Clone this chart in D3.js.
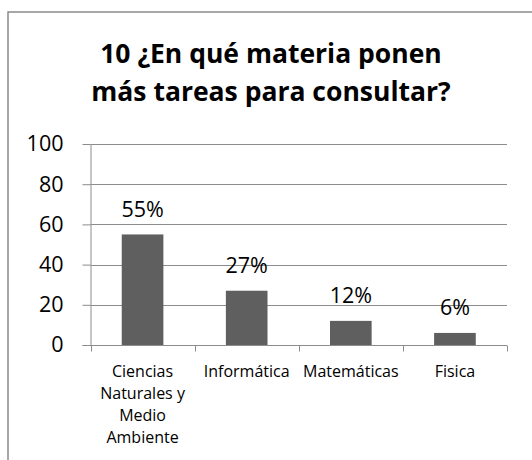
<!DOCTYPE html>
<html>
<head>
<meta charset="utf-8">
<script src="https://cdn.jsdelivr.net/npm/d3@7"></script>
<style>
  body { margin: 0; background: #fff; }
  svg { display: block; font-family: "Open Sans", sans-serif; }
</style>
</head>
<body>
<div id="chart"></div>
<script>
// chart data
const titleLines = ["10 ¿En qué materia ponen", "más tareas para consultar?"];
const categories = [
  ["Ciencias", "Naturales y", "Medio", "Ambiente"],
  ["Informática"],
  ["Matemáticas"],
  ["Fisica"]
];
const values = [55, 27, 12, 6];
const valueLabels = ["55%", "27%", "12%", "6%"];
const yTicks = [0, 20, 40, 60, 80, 100];

const fontFamily = "'Open Sans', sans-serif";
const width = 532, height = 460;
const plot = { left: 90.5, right: 507, top: 144, bottom: 345 };

const svg = d3.select("#chart").append("svg")
  .attr("width", width)
  .attr("height", height);

// outer frame (cut off at right and bottom like the picture)
svg.append("rect")
  .attr("x", 8).attr("y", 12)
  .attr("width", 540).attr("height", 470)
  .attr("fill", "#fff")
  .attr("stroke", "#8a8a8a")
  .attr("stroke-width", 1.5);

// title
svg.append("text")
  .attr("text-anchor", "middle")
  .attr("font-weight", "bold")
  .attr("font-size", 26.5)
  .attr("fill", "#000")
  .selectAll("tspan")
  .data(titleLines)
  .join("tspan")
    .attr("x", 271)
    .attr("y", (d, i) => 63 + i * 38)
    .text(d => d);

const x = d3.scaleBand()
  .domain(d3.range(categories.length))
  .range([plot.left, plot.right])
  .paddingInner(0.6)
  .paddingOuter(0.3);

const xTicks = d3.scaleBand()
  .domain(d3.range(categories.length))
  .range([plot.left, plot.right]);

const y = d3.scaleLinear()
  .domain([0, 100])
  .range([plot.bottom, plot.top]);

// gridlines
svg.append("g")
  .selectAll("line")
  .data(yTicks.slice(1))
  .join("line")
    .attr("x1", plot.left)
    .attr("x2", plot.right)
    .attr("y1", d => Math.round(y(d)) + 0.5)
    .attr("y2", d => Math.round(y(d)) + 0.5)
    .attr("stroke", "#8c8c8c")
    .attr("stroke-width", 1);

// y axis
const yAxis = svg.append("g")
  .attr("transform", `translate(${plot.left},0)`)
  .call(d3.axisLeft(y).tickValues(yTicks).tickSize(8).tickSizeOuter(0).tickPadding(19));
yAxis.selectAll("path, line").attr("stroke", "#8c8c8c");
yAxis.selectAll("text")
  .attr("font-size", 21.5)
  .attr("font-family", fontFamily)
  .attr("fill", "#000");

// bars
svg.append("g")
  .selectAll("rect")
  .data(values)
  .join("rect")
    .attr("x", (d, i) => x(i))
    .attr("y", d => y(d))
    .attr("width", x.bandwidth())
    .attr("height", d => y(0) - y(d))
    .attr("fill", "#5f5f5f");

// value labels
svg.append("g")
  .selectAll("text")
  .data(values)
  .join("text")
    .attr("x", (d, i) => x(i) + x.bandwidth() / 2)
    .attr("y", d => y(d) - 17.5)
    .attr("text-anchor", "middle")
    .attr("font-size", 21.5)
    .attr("fill", "#000")
    .text((d, i) => valueLabels[i]);

// x axis
const xAxisG = svg.append("g")
  .attr("transform", `translate(0,${Math.round(plot.bottom) + 0.5})`);
xAxisG.append("line")
  .attr("x1", plot.left - 8).attr("x2", plot.right)
  .attr("stroke", "#8c8c8c");
xAxisG.selectAll("line.tick")
  .data(d3.range(categories.length + 1))
  .join("line")
    .attr("class", "tick")
    .attr("x1", i => Math.round(i < categories.length ? xTicks(i) : plot.right) + 0.5)
    .attr("x2", i => Math.round(i < categories.length ? xTicks(i) : plot.right) + 0.5)
    .attr("y1", 0).attr("y2", 6)
    .attr("stroke", "#8c8c8c");

// category labels
svg.append("g")
  .selectAll("text")
  .data(categories)
  .join("text")
    .attr("text-anchor", "middle")
    .attr("font-size", 16)
    .attr("fill", "#000")
    .selectAll("tspan")
    .data((lines, i) => lines.map(l => ({ l, i })))
    .join("tspan")
      .attr("x", d => xTicks(d.i) + xTicks.bandwidth() / 2)
      .attr("y", (d, j) => 377 + j * 22)
      .text(d => d.l);
</script>
</body>
</html>
